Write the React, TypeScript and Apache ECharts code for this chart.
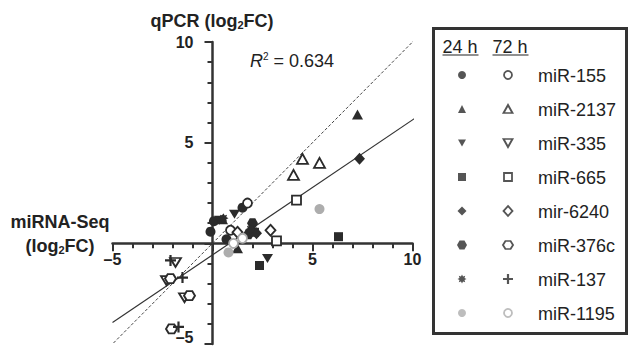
import React, { useEffect, useRef } from "react";
import * as echarts from "echarts";

// ---------- data ----------
const mirNames = ["miR-155", "miR-2137", "miR-335", "miR-665", "mir-6240", "miR-376c", "miR-137", "miR-1195"];
const timeLabels = ["24 h", "72 h"];

// [miRNA-Seq log2FC, qPCR log2FC]
const mir155_24 = [[1.5, 1.77], [-0.1, 0.58], [0.07, 1.1], [0.7, 0.2]];
const mir155_72 = [[1.75, 2.0], [0.9, 0.65]];
const mir2137_24 = [[7.25, 6.4], [1.25, -0.25], [0.5, 1.2]];
const mir2137_72 = [[4.5, 4.2], [5.35, 4.0], [4.05, 3.4]];
const mir335_24 = [[1.1, 1.45], [2.75, -0.75], [0.35, 1.15]];
const mir335_72 = [[-1.85, -0.95], [-2.3, -1.85], [-1.4, -2.7]];
const mir665_24 = [[6.3, 0.33], [2.35, -1.1], [2.1, 0.55]];
const mir665_72 = [[4.2, 2.15], [3.2, 0.12]];
const mir6240_24 = [[7.35, 4.2], [2.2, 0.5]];
const mir6240_72 = [[2.9, 0.65], [1.25, 0.55]];
const mir376c_24 = [[2.0, 1.0], [1.8, 0.45]];
const mir376c_72 = [[-2.1, -1.75], [-1.15, -2.6], [-2.05, -4.25]];
const mir137_24 = [[0.55, 1.25], [1.9, 0.7]];
const mir137_72 = [[-2.1, -0.85], [-1.5, -1.7], [-1.7, -4.15]];
const mir1195_24 = [[5.35, 1.7], [0.8, -0.45]];
const mir1195_72 = [[1.05, 0.0], [1.5, 0.25]];

const data24 = [mir155_24, mir2137_24, mir335_24, mir665_24, mir6240_24, mir376c_24, mir137_24, mir1195_24];
const data72 = [mir155_72, mir2137_72, mir335_72, mir665_72, mir6240_72, mir376c_72, mir137_72, mir1195_72];

const fitLine = [[-5, -3.93], [10.25, 6.3]];
const identityLine = [[-4.95, -4.95], [10.15, 10.15]];
const rSquaredText = "0.634";

const xTicks = [-5, 5, 10];
const yTicks = [-5, 5, 10];

// ---------- styles ----------
const FONT = '"Liberation Sans", Arial, Helvetica, sans-serif';
const DARK = "#2b2b2b";
const GRAY = "#adadad";

function starPath() {
  const pts: string[] = [];
  const n = 16;
  for (let i = 0; i < n; i++) {
    const r = i % 2 === 0 ? 5 : 3;
    const a = (Math.PI * 2 * i) / n - Math.PI / 2;
    pts.push(`${(5 + r * Math.cos(a)).toFixed(2)},${(5 + r * Math.sin(a)).toFixed(2)}`);
  }
  return "path://M" + pts.join("L") + "Z";
}

const SYM = {
  circle: "circle",
  triangle: "triangle",
  inv: "path://M0,0L10,0L5,9Z",
  square: "rect",
  diamond: "diamond",
  hex: "path://M2.5,0L7.5,0L10,4.33L7.5,8.66L2.5,8.66L0,4.33Z",
  star: starPath(),
  plus: "path://M0,5L10,5M5,0L5,10",
};

const sym24 = [SYM.circle, SYM.triangle, SYM.inv, SYM.square, SYM.diamond, SYM.hex, SYM.star, SYM.circle];
const sym72 = [SYM.circle, SYM.triangle, SYM.inv, SYM.square, SYM.diamond, SYM.hex, SYM.plus, SYM.circle];
const size24 = [10, [11, 10], [11, 9], 9, [11, 12], [11, 10], 10, 10];
const size72 = [9, [11, 10], [11, 9], 9, [10, 11], [11, 9], 11, 9];
const lsize24 = [8, [8, 8], [8, 7], 8, [9, 9], [10, 9], 9, 8];
const lsize72 = [8, [9, 8], [9, 8], 8, [9, 10], [10, 8], 10, 8];

const legendRowTop = 75;
const legendRowStep = 34;

const GRID_LEFT = 112.5;
const GRID_TOP = 42;
const GRID_W = 300;
const GRID_H = 302;
const X_MIN = -5;
const X_MAX = 10;
const Y_MIN = -5;
const Y_MAX = 10;

function fmt(v: number) {
  if (v === 0) return "";
  return v < 0 ? "\u2013" + Math.abs(v) : String(v);
}

export default function App() {
  const ref = useRef<HTMLDivElement>(null);
  useEffect(() => {
    if (!ref.current) return;
    const chart = echarts.init(ref.current, null, { renderer: "svg" });

    const series: any[] = [];
    series.push({
      type: "line",
      xAxisIndex: 0,
      yAxisIndex: 0,
      data: identityLine,
      showSymbol: false,
      symbol: "none",
      clip: false,
      lineStyle: { color: "#444", width: 1, type: [3, 2] },
      z: 1,
    });
    series.push({
      type: "line",
      xAxisIndex: 0,
      yAxisIndex: 0,
      data: fitLine,
      showSymbol: false,
      symbol: "none",
      clip: false,
      lineStyle: { color: "#333", width: 1.2 },
      z: 1,
    });

    mirNames.forEach((name, i) => {
      const gray = i === 7;
      const col = gray ? GRAY : DARK;
      series.push({
        type: "scatter",
        name: name + " 24 h",
        xAxisIndex: 0,
        yAxisIndex: 0,
        data: data24[i],
        symbol: sym24[i],
        symbolSize: size24[i],
        itemStyle: { color: col, opacity: 1 },
        z: 3,
      });
      const isPlus = sym72[i] === SYM.plus;
      series.push({
        type: "scatter",
        name: name + " 72 h",
        xAxisIndex: 0,
        yAxisIndex: 0,
        data: data72[i],
        symbol: sym72[i],
        symbolSize: size72[i],
        itemStyle: {
          color: isPlus ? "none" : "#fff",
          borderColor: col,
          borderWidth: isPlus ? 2.2 : 1.8,
          opacity: 1,
        },
        z: 4,
      });
      series.push({
        type: "scatter",
        xAxisIndex: 1,
        yAxisIndex: 1,
        data: [[0, i]],
        symbol: sym24[i],
        symbolSize: lsize24[i],
        itemStyle: { color: col },
        silent: true,
      });
      series.push({
        type: "scatter",
        xAxisIndex: 1,
        yAxisIndex: 1,
        data: [[1, i]],
        symbol: sym72[i],
        symbolSize: lsize72[i],
        itemStyle: {
          color: isPlus ? "none" : "#fff",
          borderColor: col,
          borderWidth: isPlus ? 2.2 : 1.8,
        },
        silent: true,
      });
    });

    const axisCommon = {
      type: "value",
      interval: 5,
      axisLine: { show: true, onZero: false, lineStyle: { color: "#333", width: 2.5 } },
      axisTick: { show: true, length: 8, lineStyle: { color: "#333", width: 2 } },
      minorTick: { show: true, splitNumber: 5, length: 5, lineStyle: { color: "#333", width: 2 } },
      splitLine: { show: false },
      minorSplitLine: { show: false },
    };

    // offsets placing the axes through the origin
    const xOffset = -(GRID_H * (0 - Y_MIN)) / (Y_MAX - Y_MIN);
    const yOffset = -(GRID_W * (0 - X_MIN)) / (X_MAX - X_MIN);

    const graphics: any[] = [];
    const bold = { fontFamily: FONT, fontWeight: "bold", fill: "#222" };
    graphics.push({
      type: "text",
      x: 212,
      y: 21,
      style: {
        text: "{b|qPCR (log}{s|2}{b|FC)}",
        align: "center",
        verticalAlign: "middle",
        rich: {
          b: { ...bold, fontSize: 18 },
          s: { ...bold, fontSize: 11, padding: [8, 0, 0, 0] },
        },
      },
    });
    graphics.push({
      type: "text",
      x: 60,
      y: 222,
      style: { text: "miRNA-Seq", align: "center", verticalAlign: "middle", ...bold, fontSize: 18 },
    });
    graphics.push({
      type: "text",
      x: 60,
      y: 246,
      style: {
        text: "{b|(log}{s|2}{b|FC)}",
        align: "center",
        verticalAlign: "middle",
        rich: {
          b: { ...bold, fontSize: 18 },
          s: { ...bold, fontSize: 11, padding: [8, 0, 0, 0] },
        },
      },
    });
    graphics.push({
      type: "text",
      x: 250,
      y: 61,
      style: {
        text: "{i|R}{p|2}{n| = " + rSquaredText + "}",
        align: "left",
        verticalAlign: "middle",
        rich: {
          i: { fontFamily: FONT, fontStyle: "italic", fontSize: 18, fill: "#222" },
          p: { fontFamily: FONT, fontSize: 10, fill: "#222", padding: [0, 0, 9, 0] },
          n: { fontFamily: FONT, fontSize: 18, fill: "#222" },
        },
      },
    });
    graphics.push({
      type: "rect",
      shape: { x: 433.5, y: 28.5, width: 193, height: 305 },
      style: { fill: "#fff", stroke: "#333", lineWidth: 3 },
      z: -10,
    });
    const headerX = [442.5, 492.5];
    timeLabels.forEach((t, k) => {
      graphics.push({
        type: "text",
        x: headerX[k],
        y: 47,
        style: { text: t, fontFamily: FONT, fontSize: 18, fill: "#222", verticalAlign: "middle" },
      });
      graphics.push({
        type: "line",
        shape: { x1: headerX[k], y1: 55, x2: headerX[k] + 36, y2: 55 },
        style: { stroke: "#222", lineWidth: 1.2 },
      });
    });
    mirNames.forEach((name, i) => {
      graphics.push({
        type: "text",
        x: 538,
        y: legendRowTop + i * legendRowStep + 1,
        style: { text: name, fontFamily: FONT, fontSize: 18, fill: "#222", verticalAlign: "middle" },
      });
    });

    const tickLabelStyle = {
      fontSize: 16,
      fontWeight: "bold",
      fontFamily: FONT,
      color: "#222",
    };

    chart.setOption({
      animation: false,
      backgroundColor: "#fff",
      grid: [
        { left: GRID_LEFT, top: GRID_TOP, width: GRID_W, height: GRID_H, outerBoundsMode: "none", containLabel: false },
        { left: 462, top: legendRowTop, width: 46, height: legendRowStep * 7, outerBoundsMode: "none", containLabel: false },
      ],
      xAxis: [
        {
          ...axisCommon,
          gridIndex: 0,
          position: "bottom",
          offset: xOffset,
          min: X_MIN,
          max: X_MAX,
          axisLabel: {
            ...tickLabelStyle,
            margin: 8,
            formatter: (v: number) => (xTicks.includes(v) ? fmt(v) : ""),
          },
        },
        { type: "value", gridIndex: 1, min: 0, max: 1, show: false },
      ],
      yAxis: [
        {
          ...axisCommon,
          gridIndex: 0,
          position: "left",
          offset: yOffset,
          min: Y_MIN,
          max: Y_MAX,
          axisLabel: {
            ...tickLabelStyle,
            margin: 19,
            formatter: (v: number) =>
              !yTicks.includes(v) ? "" : v === Y_MIN ? "{low|" + fmt(v) + "}" : fmt(v),
            rich: {
              low: { ...tickLabelStyle, padding: [0, 0, 13, 0] },
            },
          },
        },
        { type: "value", gridIndex: 1, min: 0, max: 7, inverse: true, show: false },
      ],
      graphic: graphics,
      series,
    });
    return () => chart.dispose();
  }, []);
  return <div ref={ref} style={{ position: "fixed", left: 0, top: 0, width: 630, height: 346 }} />;
}
